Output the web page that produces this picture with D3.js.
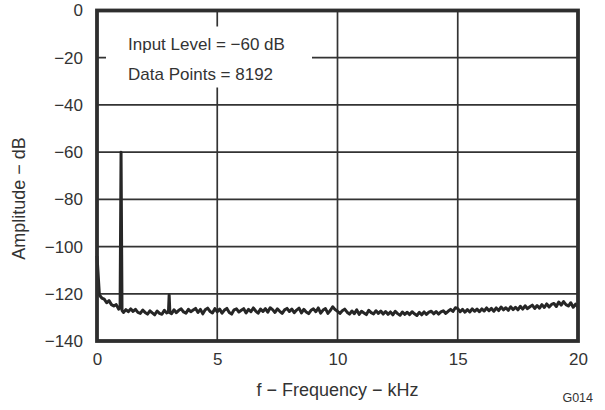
<!DOCTYPE html>
<html>
<head>
<meta charset="utf-8">
<script src="https://cdn.jsdelivr.net/npm/d3@7"></script>
<style>
  body { margin: 0; background: #fff; }
  text { font-family: "Liberation Sans", Arial, sans-serif; fill: #333; }
</style>
</head>
<body>
<div id="chart"></div>
<script>
// tick labels
const xTicks = [0, 5, 10, 15, 20];
const yTicks = [0, -20, -40, -60, -80, -100, -120, -140];

// noise floor, one value every 0.1 kHz from 0 to 20 kHz (dB)
const floorStepKHz = 0.1;
const floorDb = [
  -104, -120.5, -121.8, -122.3, -123.8, -122.9, -124.6, -125.2, -124.6, -126.5,
  -126.8, -127.9, -126.7, -127.6, -126.4, -127.5, -126.6, -127.9, -128.3, -126.9,
  -127.9, -128.6, -127.2, -128.1, -128.9, -127.3, -128.3, -128.7, -127.0, -128.1,
  -127.6, -128.4, -126.8, -128.0, -127.0, -126.4, -127.7, -128.2, -126.6, -127.6,
  -126.9, -126.2, -127.9, -126.6, -128.5, -126.8, -126.1, -127.5, -128.1, -126.3,
  -127.6, -126.5, -128.2, -126.9, -126.2, -127.9, -128.6, -126.8, -126.4, -127.7,
  -127.0, -126.3, -128.1, -126.6, -127.6, -126.0, -127.3, -128.2, -126.5, -127.5,
  -126.3, -127.8, -125.9, -126.7, -127.9, -126.4, -127.4, -128.3, -126.8, -126.2,
  -127.5, -126.5, -128.0, -126.9, -126.1, -128.1, -126.6, -127.7, -128.4, -127.0,
  -126.4, -127.6, -126.0, -128.2, -126.9, -126.3, -128.3, -127.1, -125.5, -126.7,
  -127.4, -128.3, -127.2, -126.5, -127.8, -128.6, -127.3, -128.4, -126.8, -128.7,
  -127.4, -128.1, -128.8, -127.0, -128.0, -128.5, -127.2, -128.3, -127.3, -128.6,
  -127.5, -128.7, -127.7, -128.9, -127.4, -128.4, -129.1, -127.7, -128.7, -127.8,
  -128.8, -127.6, -128.5, -129.2, -127.9, -128.9, -127.7, -128.7, -127.8, -127.4,
  -128.5, -127.5, -128.6, -127.7, -127.2, -128.3, -127.4, -126.6, -127.5, -125.9,
  -126.3, -127.6, -126.6, -127.8, -126.7, -127.7, -126.4, -127.4, -126.5, -127.6,
  -126.4, -127.3, -126.0, -127.2, -126.2, -127.4, -126.0, -127.1, -125.6, -126.8,
  -125.9, -127.0, -125.5, -126.7, -125.7, -126.8, -125.3, -126.5, -125.1, -126.3,
  -125.5, -124.8, -126.2, -125.0, -126.1, -124.6, -125.8, -124.3, -125.6, -124.5,
  -124.1, -125.4, -123.5, -124.8, -123.3, -124.6, -125.2, -123.8, -125.7, -124.4,
  -125.8
];

// tones: fundamental at 1 kHz and 3rd harmonic
const spikeKHz = [0.96, 1.0, 1.04, 2.97, 3.0, 3.03];
const spikeDb  = [-126.0, -60, -127.0, -127.8, -120.5, -128.0];

// set the dimensions and margins of the graph
const margin = {top: 10.5, right: 27, bottom: 69, left: 97},
    width = 605 - margin.left - margin.right,
    height = 410 - margin.top - margin.bottom;

const svg = d3.select("#chart")
    .append("svg")
    .attr("width", 605)
    .attr("height", 410)
  .append("g")
    .attr("transform", `translate(${margin.left},${margin.top})`);

const x = d3.scaleLinear().domain([0, 20]).range([0, width]);
const y = d3.scaleLinear().domain([-140, 0]).range([height, 0]);

// build the trace: floor points + tone points, sorted by frequency
let pts = floorDb.map((v, i) => ({f: +(i * floorStepKHz).toFixed(2), db: v}));
pts = pts.filter(p => !spikeKHz.some(s => Math.abs(s - p.f) < 0.001));
spikeKHz.forEach((f, i) => pts.push({f: f, db: spikeDb[i]}));
pts.sort((a, b) => a.f - b.f);

// grid
svg.append("g")
    .selectAll("line")
    .data(yTicks.slice(1, -1))
    .join("line")
    .attr("x1", 0).attr("x2", width)
    .attr("y1", d => y(d)).attr("y2", d => y(d))
    .attr("stroke", "#333").attr("stroke-width", 1.7);

svg.append("g")
    .selectAll("line")
    .data(xTicks.slice(1, -1))
    .join("line")
    .attr("y1", 0).attr("y2", height)
    .attr("x1", d => x(d)).attr("x2", d => x(d))
    .attr("stroke", "#333").attr("stroke-width", 1.7);

// white box behind the annotation
svg.append("rect")
    .attr("x", 9).attr("y", 16)
    .attr("width", 206).attr("height", 61)
    .attr("fill", "#fff");

svg.append("text")
    .attr("x", 31).attr("y", 39)
    .style("font-size", "17px")
    .text("Input Level = \u221260 dB");
svg.append("text")
    .attr("x", 31).attr("y", 69)
    .style("font-size", "17px")
    .text("Data Points = 8192");

// trace
svg.append("path")
    .datum(pts)
    .attr("fill", "none")
    .attr("stroke", "#262626")
    .attr("stroke-width", 3)
    .attr("stroke-linejoin", "round")
    .attr("d", d3.line().x(d => x(d.f)).y(d => y(d.db)));

// frame
svg.append("rect")
    .attr("x", 0).attr("y", 0)
    .attr("width", width).attr("height", height)
    .attr("fill", "none")
    .attr("stroke", "#2e2e2e").attr("stroke-width", 3.8);

// axes (labels only)
const xAxis = svg.append("g")
    .attr("transform", `translate(0,${height})`)
    .call(d3.axisBottom(x).tickValues(xTicks).tickSize(0).tickPadding(12));
const yAxis = svg.append("g")
    .call(d3.axisLeft(y).tickValues(yTicks).tickSize(0).tickPadding(14)
        .tickFormat(d => d < 0 ? "\u2212" + Math.abs(d) : d));
[xAxis, yAxis].forEach(a => {
    a.select(".domain").remove();
    a.selectAll("text")
        .style("font-size", "17px")
        .style("font-family", "'Liberation Sans', Arial, sans-serif")
        .attr("fill", "#333");
});

// axis titles
svg.append("text")
    .attr("x", width / 2).attr("y", height + 55)
    .attr("text-anchor", "middle")
    .style("font-size", "18px")
    .text("f \u2212 Frequency \u2212 kHz");

svg.append("text")
    .attr("transform", `translate(${-72},${188}) rotate(-90)`)
    .attr("text-anchor", "middle")
    .style("font-size", "18px")
    .text("Amplitude \u2212 dB");

svg.append("text")
    .attr("x", width + 15).attr("y", height + 60.5)
    .attr("text-anchor", "end")
    .style("font-size", "12.5px")
    .text("G014");
</script>
</body>
</html>
